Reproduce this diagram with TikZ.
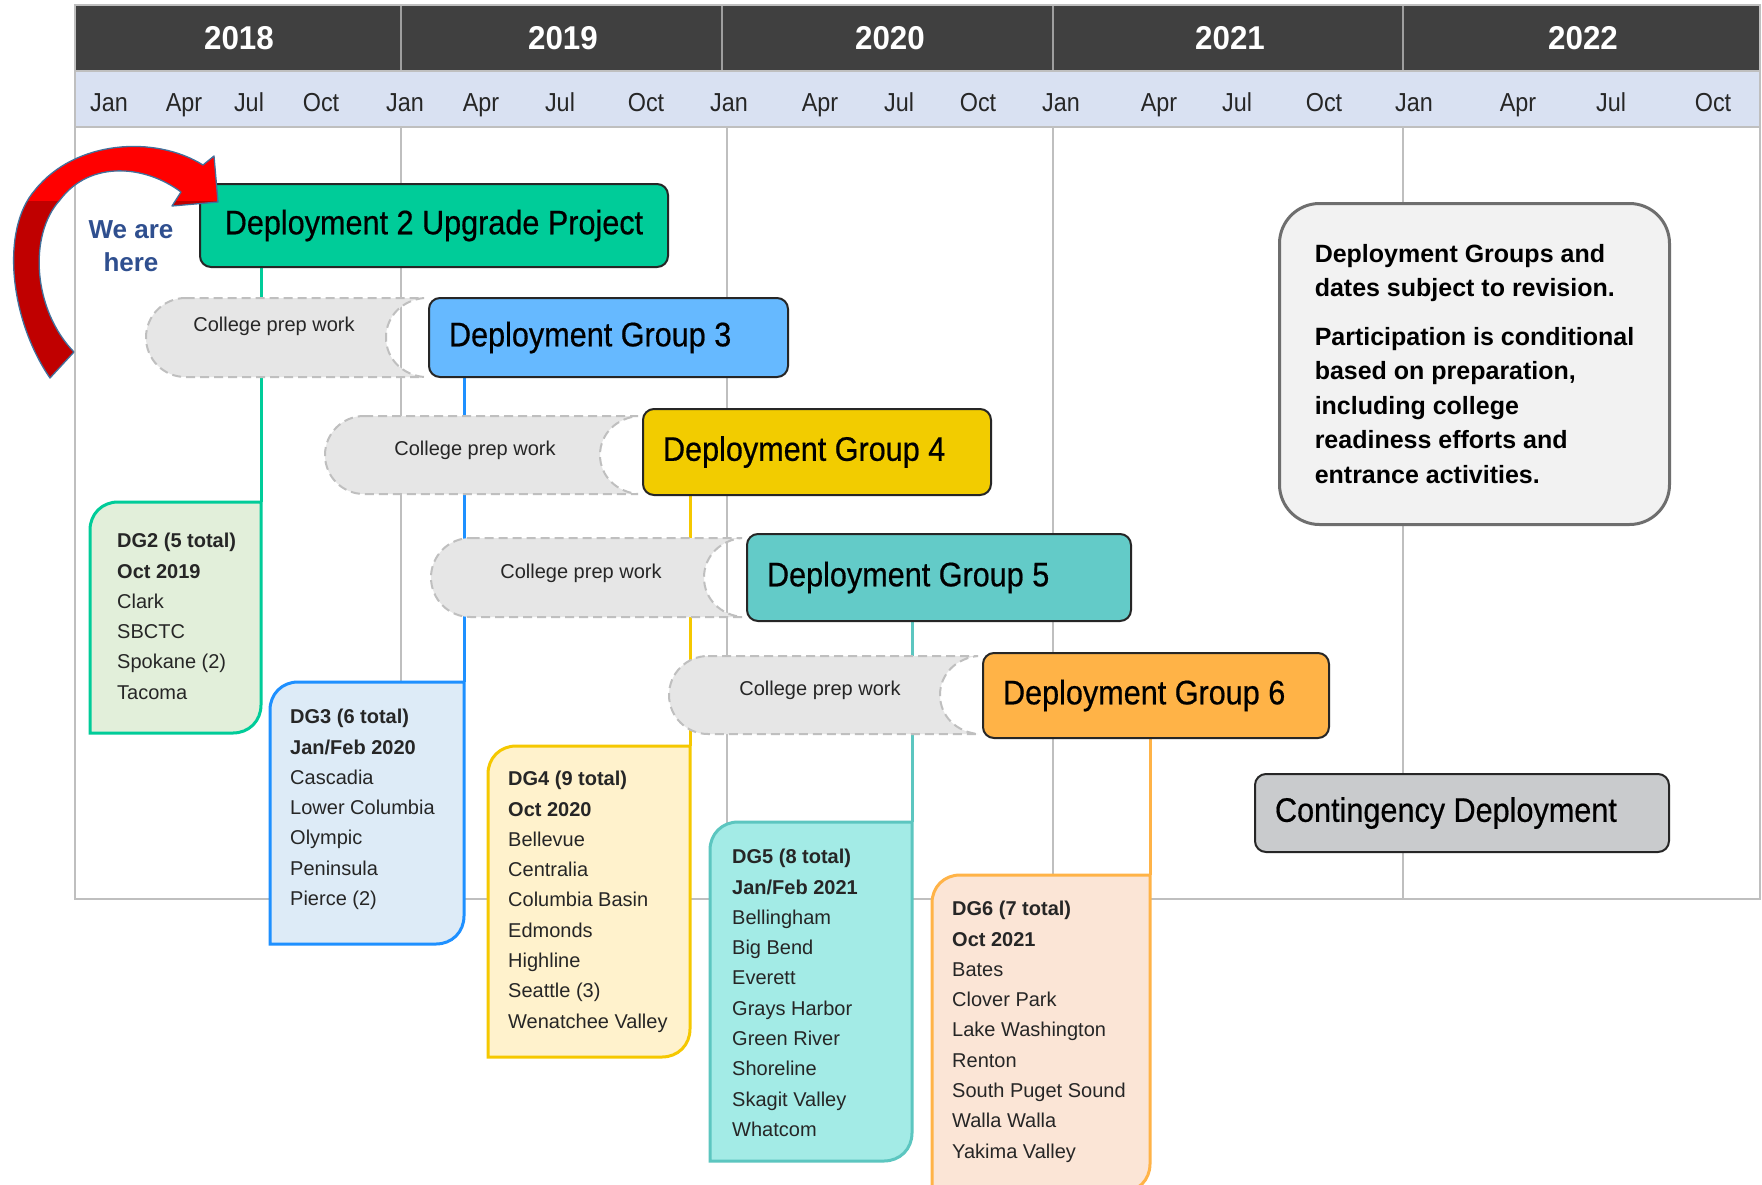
\documentclass[tikz,border=0pt]{standalone}
\usepackage{fontspec}
\setmainfont{Liberation Sans}
\newfontfamily\titlefont[FakeStretch=0.9,FakeBold=0.5]{Liberation Sans}
\newfontfamily\monthfont[FakeStretch=0.9]{Liberation Sans}
\newfontfamily\yearfont[FakeStretch=0.95]{Liberation Sans}
\definecolor{hdr}{HTML}{404040}
\definecolor{monthbg}{HTML}{D9E1F2}
\definecolor{gridc}{HTML}{BFBFBF}
\definecolor{dtwo}{HTML}{00CC99}
\definecolor{dthree}{HTML}{66B9FF}
\definecolor{dfour}{HTML}{F2CC00}
\definecolor{dfive}{HTML}{63CBC8}
\definecolor{dsix}{HTML}{FFB347}
\definecolor{contc}{HTML}{C9CBCD}
\definecolor{notebg}{HTML}{F2F2F2}
\definecolor{noteln}{HTML}{6E6E6E}
\definecolor{prepbg}{HTML}{E6E6E6}
\definecolor{prepln}{HTML}{BFBFBF}
\definecolor{fdtwo}{HTML}{E2EFDA}
\definecolor{fdthree}{HTML}{DDEBF7}
\definecolor{ldthree}{HTML}{1E90FF}
\definecolor{fdfour}{HTML}{FFF2CC}
\definecolor{ldfour}{HTML}{F5C800}
\definecolor{fdfive}{HTML}{A3EBE6}
\definecolor{ldfive}{HTML}{5CC6C0}
\definecolor{fdsix}{HTML}{FBE5D6}
\definecolor{herecol}{HTML}{2F4F8F}
\definecolor{arrowln}{HTML}{41719C}
\definecolor{arrowred}{HTML}{FF0000}
\definecolor{arrowdark}{HTML}{C00000}
\definecolor{txt}{HTML}{262626}

\pgfdeclarelayer{gridlayer}
\pgfdeclarelayer{backlayer}
\pgfsetlayers{gridlayer,backlayer,main}

\newcommand\dgshape[6]{%
  \filldraw[fill=#5, draw=#6, line width=3pt]
    (#1,{#2+28}) .. controls (#1,{#2+12}) and ({#1+12},#2) .. ({#1+28},#2)
    -- (#3,#2) -- (#3,{#4-28})
    .. controls (#3,{#4-12}) and ({#3-12},#4) .. ({#3-28},#4)
    -- (#1,#4) -- cycle;}

\newcommand\prepshape[4]{%
  \pgfmathsetmacro\pym{(#2+#4)/2}%
  \pgfmathsetmacro\pr{(#4-#2)/2}%
  \pgfmathsetmacro\pk{0.552*\pr}%
  \draw[prep] ({#1+\pr},#2) -- (#3,#2)
    .. controls ({#3-21},{#2+2}) and ({#3-38},{\pym-\pk}) .. ({#3-38},\pym)
    .. controls ({#3-38},{\pym+\pk}) and ({#3-21},{#4-2}) .. (#3,#4)
    -- ({#1+\pr},#4)
    .. controls ({#1+\pr-\pk},#4) and (#1,{\pym+\pk}) .. (#1,\pym)
    .. controls (#1,{\pym-\pk}) and ({#1+\pr-\pk},#2) .. ({#1+\pr},#2) -- cycle;}

\begin{document}
\begin{tikzpicture}[x=1pt,y=-1pt,
  gridln/.style={draw=gridc, line width=1.8pt},
  dbox/.style={draw=black!85, line width=2pt, rounded corners=11pt, anchor=north west,
    inner xsep=20pt, inner ysep=0pt, font=\titlefont\fontsize{34}{40}\selectfont, text=black},
  conn/.style={line width=3pt},
  prep/.style={fill=prepbg, draw=prepln, line width=2pt, dash pattern=on 9pt off 5pt},
  preptext/.style={font=\fontsize{20}{24}\selectfont, text=txt, inner sep=0pt, text height=14.3pt, text depth=0pt},
  dtext/.style={anchor=north west, align=left, inner sep=0pt, font=\fontsize{20}{30.3}\selectfont, text=txt},
  monthlbl/.style={font=\monthfont\fontsize{26}{30}\selectfont, text=txt, inner sep=0pt, text height=18.6pt, text depth=0pt},
  yearlbl/.style={font=\yearfont\bfseries\fontsize{33}{38}\selectfont, text=white, inner sep=0pt, text height=23.6pt, text depth=0pt}
]
\begin{pgfonlayer}{gridlayer}
\fill[white] (0,0) rectangle (1762,1184);
% body grid
\foreach \gx in {401,727,1053,1403} \draw[gridln] (\gx,127) -- (\gx,899);
\draw[gridln] (75,127) -- (75,899) -- (1760,899) -- (1760,127);
% header
\fill[hdr] (75,6) rectangle (1760,71);
\foreach \gx in {401,722,1053,1403} \draw[draw=gray!75, line width=1.5pt] (\gx,6) -- (\gx,71);
\fill[monthbg] (75,71) rectangle (1760,127);
\draw[draw=gridc, line width=1.5pt] (75,5) rectangle (1760,127);
\draw[draw=gridc, line width=1.5pt] (75,71) -- (1760,71);
\end{pgfonlayer}
\useasboundingbox (0,0) rectangle (1762,1184);

\foreach \yx/\yt [count=\i] in {239/2018,563/2019,890/2020,1230/2021,1583/2022}
  \node[yearlbl] (yr\i) at (\yx,38) {\yt};
\foreach \mx/\mt [count=\i] in {109/Jan,184/Apr,249/Jul,321/Oct,405/Jan,481/Apr,560/Jul,646/Oct,729/Jan,820/Apr,899/Jul,978/Oct,1061/Jan,1159/Apr,1237/Jul,1324/Oct,1414/Jan,1518/Apr,1611/Jul,1713/Oct}
  \node[monthlbl] (mo\i) at (\mx,102) {\mt};

% deployment boxes
\path (199,183) node[dbox, fill=dtwo, minimum height=83pt] (d2) {\makebox[428pt][c]{Deployment 2 Upgrade Project}};
\path (428,297) node[dbox, fill=dthree, minimum height=79pt] (d3) {\makebox[319pt][l]{Deployment Group 3}};
\path (642,408) node[dbox, fill=dfour, minimum height=86pt] (d4) {\makebox[308pt][l]{Deployment Group 4}};
\path (746,533) node[dbox, fill=dfive, minimum height=87pt] (d5) {\makebox[344pt][l]{Deployment Group 5}};
\path (982,652) node[dbox, fill=dsix, minimum height=85pt] (d6) {\makebox[306pt][l]{Deployment Group 6}};

% connector end points (top right corners of detail boxes)
\coordinate (c2) at (261,502);
\coordinate (c3) at (464,682);
\coordinate (c4) at (690,746);
\coordinate (c5) at (912,822);
\coordinate (c6) at (1150,875);

\begin{pgfonlayer}{backlayer}
% connectors (behind pills and boxes)
\draw[conn, draw=dtwo] (c2 |- d2.south) -- (c2);
\draw[conn, draw=ldthree] (c3 |- d3.south) -- (c3);
\draw[conn, draw=ldfour] (c4 |- d4.south) -- (c4);
\draw[conn, draw=ldfive] (c5 |- d5.south) -- (c5);
\draw[conn, draw=dsix] (c6 |- d6.south) -- (c6);
% prep pills
\prepshape{146}{298}{424}{377}
\prepshape{325}{416}{638}{494}
\prepshape{431}{538}{742}{617}
\prepshape{669}{656}{978}{734}
\end{pgfonlayer}
\node[preptext] (p3) at (274,324) {College prep work};
\node[preptext] (p4) at (475,448) {College prep work};
\node[preptext] (p5) at (581,571) {College prep work};
\node[preptext] (p6) at (820,688) {College prep work};

% detail boxes
\dgshape{90}{502}{261}{733}{fdtwo}{dtwo}
\dgshape{270}{682}{464}{944}{fdthree}{ldthree}
\dgshape{488}{746}{690}{1057}{fdfour}{ldfour}
\dgshape{710}{822}{912}{1161}{fdfive}{ldfive}
\dgshape{932}{875}{1150}{1192}{fdsix}{dsix}

\node[dtext] (t2) at (117,533) {\textbf{DG2 (5 total)}\\\textbf{Oct 2019}\\Clark\\SBCTC\\Spokane (2)\\Tacoma};
\node[dtext] (t3) at (290,709) {\textbf{DG3 (6 total)}\\\textbf{Jan/Feb 2020}\\Cascadia\\Lower Columbia\\Olympic\\Peninsula\\Pierce (2)};
\node[dtext] (t4) at (508,771) {\textbf{DG4 (9 total)}\\\textbf{Oct 2020}\\Bellevue\\Centralia\\Columbia Basin\\Edmonds\\Highline\\Seattle (3)\\Wenatchee Valley};
\node[dtext] (t5) at (732,849) {\textbf{DG5 (8 total)}\\\textbf{Jan/Feb 2021}\\Bellingham\\Big Bend\\Everett\\Grays Harbor\\Green River\\Shoreline\\Skagit Valley\\Whatcom};
\node[dtext] (t6) at (952,901) {\textbf{DG6 (7 total)}\\\textbf{Oct 2021}\\Bates\\Clover Park\\Lake Washington\\Renton\\South Puget Sound\\Walla Walla\\Yakima Valley};

% notes
\node[draw=noteln, fill=notebg, line width=3pt, rounded corners=40pt, anchor=north west,
  minimum width=390pt, minimum height=321pt, align=left, inner sep=0pt,
  font=\bfseries\fontsize{25}{34.5}\selectfont, text=black] (notes) at (1278,202)
  {Deployment Groups and\\dates subject to revision.\\[14pt]Participation is conditional\\based on preparation,\\including college\\readiness efforts and\\entrance activities.};

% contingency
\path (1254,773) node[dbox, fill=contc, minimum height=78pt] (cont) {\makebox[374pt][l]{Contingency Deployment}};

% we are here
\node[font=\bfseries\fontsize{26}{33}\selectfont, text=herecol, align=center, inner sep=0pt] (here) at (131,246) {We are\\here};

% red curved arrow
\fill[arrowdark] (50,378) .. controls (10,320) and (0,230) .. (35,190) .. controls (75,140) and (155,135) .. (203,165) -- (214,156) -- (218,202) -- (172,206) -- (181,192) .. controls (145,165) and (90,160) .. (60,200) .. controls (28,235) and (33,310) .. (74,352) -- cycle;
\begin{scope}
\clip (0,120) rectangle (240,200);
\fill[arrowred] (50,378) .. controls (10,320) and (0,230) .. (35,190) .. controls (75,140) and (155,135) .. (203,165) -- (214,156) -- (218,202) -- (172,206) -- (181,192) .. controls (145,165) and (90,160) .. (60,200) .. controls (28,235) and (33,310) .. (74,352) -- cycle;
\end{scope}
\draw[arrowln, line width=1.3pt, line join=round] (50,378) .. controls (10,320) and (0,230) .. (35,190) .. controls (75,140) and (155,135) .. (203,165) -- (214,156) -- (218,202) -- (172,206) -- (181,192) .. controls (145,165) and (90,160) .. (60,200) .. controls (28,235) and (33,310) .. (74,352) -- cycle;
\end{tikzpicture}
\end{document}
